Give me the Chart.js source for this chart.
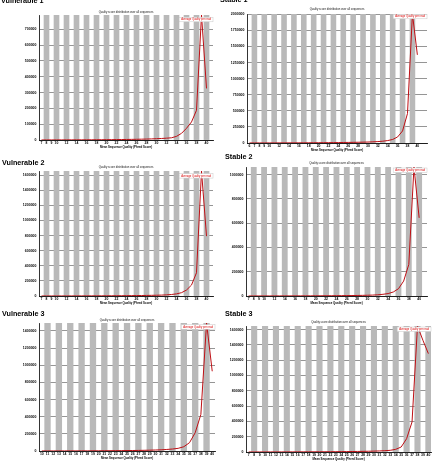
<!DOCTYPE html>
<html>
<head>
<meta charset="utf-8">
<script src="https://cdn.jsdelivr.net/npm/chart.js@4/dist/chart.umd.min.js"></script>
<style>
  body { margin: 0; background: #fff; width: 435px; height: 463px; overflow: hidden; position: relative; }
  canvas { position: absolute; }
  .tag { position: absolute; font: bold 7.2px/1 "Liberation Sans", Arial, sans-serif; color: #000; white-space: nowrap;
         will-change: transform; }
</style>
</head>
<body>
<script>
// ---------- Data ----------

const chartTitle = "Quality score distribution over all sequences";
const xAxisTitle = "Mean Sequence Quality (Phred Score)";
const seriesName = "Average Quality per read";

// Vulnerable 1
const vuln1Scores = [7,8,9,10,11,12,13,14,15,16,17,18,19,20,21,22,23,24,25,26,27,28,29,30,31,32,33,34,35,36,37,38,39,40];
const vuln1Counts = [300,400,500,600,700,800,900,1000,1100,1200,1400,1600,1800,2000,2300,2600,3000,3400,3900,4500,5200,6000,7000,8200,9600,11500,14000,23000,42000,74000,114000,188000,790000,326000];
const vuln1XTicks = [7,8,9,10,12,14,16,18,20,22,24,26,28,30,32,34,36,38,40];
const vuln1YTicks = [0,100000,200000,300000,400000,500000,600000,700000];

// Stable 1
const stab1Scores = [6,7,8,9,10,11,12,13,14,15,16,17,18,19,20,21,22,23,24,25,26,27,28,29,30,31,32,33,34,35,36,37,38,39,40];
const stab1Counts = [600,800,1000,1200,1400,1600,1800,2000,2200,2500,2800,3100,3500,4000,4500,5000,5600,6300,7000,8000,9000,10000,11500,13000,15000,18000,22000,28000,38000,55000,94000,187000,458000,2005000,1370000];
const stab1XTicks = [6,7,8,9,10,12,14,16,18,20,22,24,26,28,30,32,34,36,38,40];
const stab1YTicks = [0,250000,500000,750000,1000000,1250000,1500000,1750000,2000000];

// Vulnerable 2
const vuln2Scores = [7,8,9,10,11,12,13,14,15,16,17,18,19,20,21,22,23,24,25,26,27,28,29,30,31,32,33,34,35,36,37,38,39,40];
const vuln2Counts = [500,600,700,800,900,1000,1100,1300,1500,1700,1900,2100,2400,2700,3000,3400,3900,4400,5000,5700,6500,7500,8700,10000,12000,15000,20000,28000,44000,79000,145000,308000,1656000,793000];
const vuln2XTicks = [7,8,9,10,12,14,16,18,20,22,24,26,28,30,32,34,36,38,40];
const vuln2YTicks = [0,200000,400000,600000,800000,1000000,1200000,1400000,1600000];

// Stable 2
const stab2Scores = [7,8,9,10,11,12,13,14,15,16,17,18,19,20,21,22,23,24,25,26,27,28,29,30,31,32,33,34,35,36,37,38,39,40];
const stab2Counts = [300,350,400,450,500,600,700,800,900,1000,1100,1250,1400,1600,1800,2000,2300,2600,3000,3400,3900,4500,5200,6200,7500,10000,14000,20000,33000,60000,123000,260000,1063000,644000];
const stab2XTicks = [7,8,9,10,12,14,16,18,20,22,24,26,28,30,32,34,36,38,40];
const stab2YTicks = [0,200000,400000,600000,800000,1000000];

// Vulnerable 3
const vuln3Scores = [10,11,12,13,14,15,16,17,18,19,20,21,22,23,24,25,26,27,28,29,30,31,32,33,34,35,36,37,38,39,40];
const vuln3Counts = [600,700,800,900,1000,1200,1400,1600,1800,2100,2400,2800,3200,3700,4300,5000,5800,6800,8000,9500,11500,14000,18000,23000,31000,50000,97000,213000,426000,1493000,930000];
const vuln3XTicks = [10,11,12,13,14,15,16,17,18,19,20,21,22,23,24,25,26,27,28,29,30,31,32,33,34,35,36,37,38,39,40];
const vuln3YTicks = [0,200000,400000,600000,800000,1000000,1200000,1400000];

// Stable 3
const stab3Scores = [7,8,9,10,11,12,13,14,15,16,17,18,19,20,21,22,23,24,25,26,27,28,29,30,31,32,33,34,35,36,37,38,39,40];
const stab3Counts = [500,600,700,800,900,1000,1100,1300,1500,1700,1900,2200,2500,2800,3200,3600,4100,4700,5400,6200,7200,8400,9800,11500,14000,17000,22000,35000,65000,174000,392000,1647000,1460000,1286000];
const stab3XTicks = [7,8,9,10,11,12,13,14,15,16,17,18,19,20,21,22,23,24,25,26,27,28,29,30,31,32,33,34,35,36,37,38,39,40];
const stab3YTicks = [0,200000,400000,600000,800000,1000000,1200000,1400000,1600000];

// ---------- Layout of the composite (page pixels) ----------

const panels = [
  { name: "Vulnerable 1", scores: vuln1Scores, counts: vuln1Counts, xTicks: vuln1XTicks, yTicks: vuln1YTicks,
    plot: { l: 39, r: 213, t: 15, b: 140 }, cat: 5, titleGap: 3, legendDy: 2.3, tag: { x: 1, y: -3.2 } },
  { name: "Stable 1", scores: stab1Scores, counts: stab1Counts, xTicks: stab1XTicks, yTicks: stab1YTicks,
    plot: { l: 247.3, r: 427, t: 14, b: 142.7 }, cat: 4.93, titleGap: 4.4, legendDy: 0.3, tag: { x: 220, y: -3.6 } },
  { name: "Vulnerable 2", scores: vuln2Scores, counts: vuln2Counts, xTicks: vuln2XTicks, yTicks: vuln2YTicks,
    plot: { l: 39, r: 213, t: 170.7, b: 296 }, cat: 5, titleGap: 3.4, legendDy: 2.6, tag: { x: 2, y: 158.9 } },
  { name: "Stable 2", scores: stab2Scores, counts: stab2Counts, xTicks: stab2XTicks, yTicks: stab2YTicks,
    plot: { l: 246.3, r: 427, t: 167.3, b: 296.7 }, cat: 5.16, titleGap: 4, legendDy: 1, tag: { x: 225, y: 153.4 } },
  { name: "Vulnerable 3", scores: vuln3Scores, counts: vuln3Counts, xTicks: vuln3XTicks, yTicks: vuln3YTicks,
    plot: { l: 39.3, r: 215, t: 323.3, b: 451.7 }, cat: 5.67, titleGap: 2.6, legendDy: 1.7, tag: { x: 2, y: 309.6 } },
  { name: "Stable 3", scores: stab3Scores, counts: stab3Counts, xTicks: stab3XTicks, yTicks: stab3YTicks,
    plot: { l: 246.3, r: 431.5, t: 325.7, b: 451.7 }, cat: 5.45, titleGap: 4, legendDy: 1, tag: { x: 225, y: 309.6 } },
];

const FONT = '"Liberation Sans", Arial, sans-serif';
const Y_AXIS_W = 38;
const TOP_BLOCK = 7;
const X_AXIS_H = 10;
const RIGHT_PAD = 3;

Chart.defaults.font.family = FONT;
Chart.defaults.color = "#000";

// FastQC draws its legend as a white box in the top right corner of the plot
const legendBox = {
  id: "legendBox",
  afterDraw(chart, args, opts) {
    const { ctx, chartArea } = chart;
    ctx.save();
    ctx.font = `${opts.size}px ${FONT}`;
    const w = ctx.measureText(opts.text).width + 4;
    const h = opts.size + 1.8;
    const x = chartArea.right - w;
    const y = chartArea.top + opts.dy;
    ctx.fillStyle = "#fff";
    ctx.fillRect(x, y, w, h);
    ctx.strokeStyle = "#c8c8c8";
    ctx.lineWidth = 0.5;
    ctx.strokeRect(x, y, w, h);
    ctx.fillStyle = opts.color;
    ctx.textAlign = "center";
    ctx.textBaseline = "middle";
    ctx.fillText(opts.text, x + w / 2, y + h / 2);
    ctx.restore();
  },
};

function drawPanel(p) {
  const left = p.plot.l - Y_AXIS_W;
  const top = p.plot.t - TOP_BLOCK;
  const width = p.plot.r + RIGHT_PAD - left;
  const height = p.plot.b + X_AXIS_H - top;

  const canvas = document.createElement("canvas");
  canvas.width = Math.round(width);
  canvas.height = Math.round(height);
  canvas.style.left = left + "px";
  canvas.style.top = top + "px";
  canvas.style.width = Math.round(width) + "px";
  canvas.style.height = Math.round(height) + "px";
  document.body.appendChild(canvas);

  const tag = document.createElement("div");
  tag.className = "tag";
  tag.textContent = p.name;
  tag.style.left = p.tag.x + "px";
  tag.style.top = p.tag.y + "px";
  document.body.appendChild(tag);

  const yMax = Math.max(...p.counts);
  const xMin = p.scores[0] - 0.5;
  const xMax = xMin + (p.plot.r - p.plot.l) / p.cat;
  const titleLH = 2.8 * 1.2;

  // alternating grey stripes, one per odd category
  const stripes = p.scores.filter((s, i) => i % 2 === 1).map((s) => ({ x: s, y: yMax }));
  const line = p.scores.map((s, i) => ({ x: s, y: p.counts[i] }));

  new Chart(canvas, {
    type: "line",
    data: {
      datasets: [
        {
          type: "line",
          label: seriesName,
          data: line,
          borderColor: "rgb(190,15,20)",
          borderWidth: 1,
          pointRadius: 0,
          tension: 0,
          order: 0,
        },
        {
          type: "bar",
          data: stripes,
          backgroundColor: "#b9b9b9",
          borderWidth: 0,
          barPercentage: 1,
          categoryPercentage: 1,
          order: 1,
        },
      ],
    },
    options: {
      responsive: false,
      animation: false,
      events: [],
      layout: { padding: { left: 0, right: RIGHT_PAD, top: 0, bottom: 0 } },
      plugins: {
        legend: { display: false },
        tooltip: { enabled: false },
        title: {
          display: true,
          text: chartTitle,
          fullSize: false,
          color: "#111",
          font: { size: 2.8, weight: "normal" },
          padding: { top: TOP_BLOCK - p.titleGap - titleLH / 2, bottom: p.titleGap - titleLH / 2 },
        },
        legendBox: { text: seriesName, size: 2.7, color: "rgb(215,0,0)", dy: p.legendDy },
      },
      scales: {
        x: {
          type: "linear",
          min: xMin,
          max: xMax,
          offset: false,
          z: 1,
          grid: { display: false, offset: false, drawTicks: false },
          border: { display: true, color: "#000", width: 0.8 },
          afterBuildTicks: (axis) => { axis.ticks = p.xTicks.map((v) => ({ value: v })); },
          afterFit: (axis) => { axis.height = X_AXIS_H; },
          ticks: { autoSkip: false, maxRotation: 0, minRotation: 0, padding: 1.2, font: { size: 3.4, weight: "bold" }, callback: (v) => String(v) },
          title: { display: true, text: xAxisTitle, font: { size: 2.9, weight: "bold" }, padding: { top: 0, bottom: 0.7 } },
        },
        y: {
          type: "linear",
          min: 0,
          max: yMax,
          z: 1,
          grid: { color: "#7a7a7a", lineWidth: 0.8, drawTicks: false },
          border: { display: true, color: "#000", width: 0.8 },
          afterBuildTicks: (axis) => { axis.ticks = p.yTicks.map((v) => ({ value: v })); },
          afterFit: (axis) => { axis.width = Y_AXIS_W; },
          ticks: { padding: 2.5, font: { size: 3.5, weight: "bold" }, callback: (v) => String(v) },
        },
      },
    },
    plugins: [legendBox],
  });
}

panels.forEach(drawPanel);
</script>
</body>
</html>
